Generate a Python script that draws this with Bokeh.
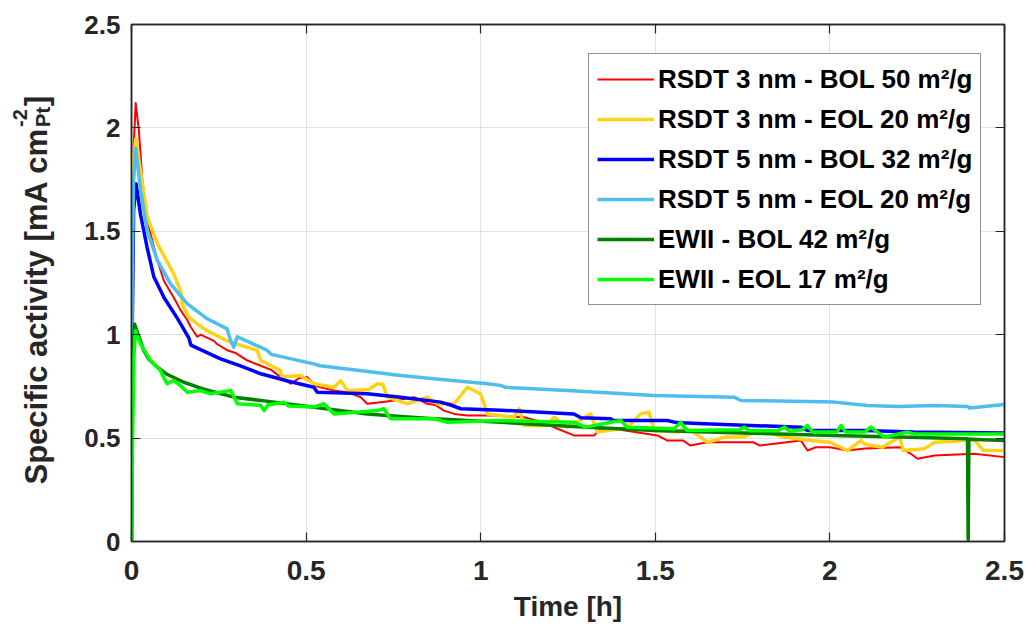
import math
from bokeh.plotting import figure
from bokeh.layouts import row
from bokeh.models import (LinearAxis, FixedTicker, Label, Legend, LegendItem, Range1d)
from bokeh.embed import file_html
from bokeh.resources import INLINE

FONT = "Liberation Sans"
AX = "#262626"

# ---------------- data ----------------
red_t = [0, 0.002, 0.006, 0.012, 0.021, 0.031, 0.045, 0.074, 0.093, 0.121, 0.14, 0.16,
         0.169, 0.188, 0.198, 0.236, 0.245, 0.274, 0.30, 0.332, 0.37, 0.40, 0.427, 0.456,
         0.48, 0.503, 0.53, 0.58, 0.62, 0.656, 0.675, 0.72, 0.752, 0.809, 0.847, 0.87,
         0.895, 0.924, 0.962, 1.038, 1.124, 1.17, 1.22, 1.267, 1.296, 1.325, 1.344, 1.40,
         1.506, 1.535, 1.58, 1.60, 1.649, 1.78, 1.80, 1.917, 1.936, 1.96, 2.0, 2.05,
         2.1, 2.2, 2.232, 2.251, 2.30, 2.413, 2.5]
red_v = [0, 1.2, 1.9, 2.12, 1.99, 1.75, 1.55, 1.36, 1.26, 1.18, 1.12, 1.07,
         1.04, 0.99, 1.0, 0.97, 0.955, 0.925, 0.91, 0.875, 0.85, 0.83, 0.795, 0.763,
         0.79, 0.795, 0.75, 0.73, 0.72, 0.698, 0.666, 0.675, 0.682, 0.698, 0.666, 0.66,
         0.633, 0.617, 0.609, 0.609, 0.601, 0.58, 0.545, 0.513, 0.513, 0.513, 0.545, 0.54,
         0.513, 0.488, 0.488, 0.464, 0.48, 0.48, 0.464, 0.488, 0.44, 0.456, 0.456, 0.44,
         0.45, 0.456, 0.424, 0.40, 0.416, 0.424, 0.408]

yel_t = [0, 0.002, 0.006, 0.012, 0.025, 0.045, 0.074, 0.121, 0.143, 0.145, 0.164, 0.207,
         0.274, 0.32, 0.36, 0.37, 0.427, 0.43, 0.484, 0.522, 0.58, 0.599, 0.618, 0.68,
         0.704, 0.72, 0.733, 0.79, 0.847, 0.876, 0.924, 0.962, 1.0, 1.019, 1.095, 1.11,
         1.124, 1.19, 1.21, 1.248, 1.315, 1.334, 1.42, 1.458, 1.482, 1.497, 1.567, 1.58,
         1.61, 1.649, 1.70, 1.75, 1.80, 1.869, 1.946, 2.0, 2.05, 2.089, 2.10, 2.15,
         2.20, 2.21, 2.27, 2.30, 2.36, 2.41, 2.44, 2.5]
yel_v = [0, 1.5, 1.85, 1.947, 1.8, 1.57, 1.44, 1.294, 1.2, 1.15, 1.085, 1.028,
         0.97, 0.945, 0.924, 0.875, 0.827, 0.795, 0.803, 0.763, 0.746, 0.778, 0.730, 0.735,
         0.763, 0.76, 0.698, 0.666, 0.698, 0.666, 0.666, 0.746, 0.714, 0.617, 0.601, 0.642,
         0.561, 0.561, 0.601, 0.553, 0.617, 0.529, 0.55, 0.617, 0.625, 0.537, 0.529, 0.55,
         0.529, 0.48, 0.505, 0.505, 0.537, 0.505, 0.488, 0.48, 0.44, 0.488, 0.47, 0.456,
         0.505, 0.44, 0.448, 0.48, 0.485, 0.497, 0.44, 0.44]

blue_t = [0, 0.002, 0.006, 0.013, 0.026, 0.045, 0.064, 0.093, 0.131, 0.164, 0.17, 0.255,
          0.31, 0.37, 0.45, 0.522, 0.532, 0.675, 0.771, 0.885, 0.914, 0.943, 1.057, 1.267,
          1.287, 1.372, 1.382, 1.535, 1.56, 1.64, 1.917, 1.936, 2.1, 2.24, 2.5]
blue_v = [0, 1.0, 1.6, 1.73, 1.58, 1.42, 1.28, 1.18, 1.08, 0.985, 0.95, 0.883,
          0.85, 0.811, 0.775, 0.746, 0.722, 0.714, 0.698, 0.674, 0.66, 0.642, 0.635, 0.617,
          0.598, 0.593, 0.585, 0.585, 0.575, 0.569, 0.553, 0.537, 0.537, 0.529, 0.525]

lb_t = [0, 0.002, 0.006, 0.012, 0.026, 0.045, 0.074, 0.112, 0.16, 0.217, 0.274, 0.284,
        0.293, 0.303, 0.389, 0.40, 0.522, 0.54, 0.771, 0.866, 1.019, 1.057, 1.07, 1.248,
        1.497, 1.726, 1.745, 2.012, 2.108, 2.194, 2.30, 2.395, 2.40, 2.5]
lb_v = [0, 1.3, 1.75, 1.90, 1.70, 1.504, 1.359, 1.246, 1.149, 1.077, 1.028, 0.97,
        0.94, 0.99, 0.924, 0.905, 0.859, 0.85, 0.803, 0.787, 0.763, 0.755, 0.746, 0.730,
        0.706, 0.698, 0.682, 0.674, 0.658, 0.653, 0.658, 0.653, 0.645, 0.662]

dg_t = [0, 0.002, 0.006, 0.009, 0.015, 0.035, 0.05, 0.074, 0.1, 0.15, 0.2, 0.293,
        0.38, 0.484, 0.58, 0.675, 0.77, 0.866, 1.057, 1.25, 1.497, 1.75, 2.012, 2.2,
        2.394, 2.396, 2.398, 2.5]
dg_v = [0, 0.6, 0.95, 1.05, 1.02, 0.924, 0.88, 0.843, 0.81, 0.770, 0.74, 0.698,
        0.68, 0.658, 0.637, 0.617, 0.605, 0.593, 0.577, 0.557, 0.537, 0.525, 0.513, 0.505,
        0.497, 0.01, 0.495, 0.488]

g_t = [0, 0.003, 0.007, 0.0115, 0.026, 0.054, 0.083, 0.09, 0.102, 0.121, 0.14, 0.16,
       0.198, 0.226, 0.284, 0.303, 0.37, 0.38, 0.39, 0.436, 0.45, 0.522, 0.551, 0.58,
       0.704, 0.723, 0.742, 0.866, 0.905, 1.057, 1.267, 1.3, 1.401, 1.42, 1.554, 1.573,
       1.59, 1.74, 1.755, 1.77, 1.85, 1.87, 1.885, 1.92, 1.936, 1.95, 2.02, 2.032,
       2.045, 2.10, 2.117, 2.156, 2.21, 2.222, 2.24, 2.5]
g_v = [0, 0.5, 0.9, 1.02, 0.956, 0.875, 0.827, 0.80, 0.763, 0.779, 0.754, 0.722,
       0.730, 0.714, 0.730, 0.666, 0.658, 0.633, 0.66, 0.674, 0.655, 0.650, 0.666, 0.617,
       0.633, 0.642, 0.593, 0.593, 0.577, 0.585, 0.577, 0.553, 0.585, 0.553, 0.545, 0.577,
       0.537, 0.54, 0.553, 0.535, 0.535, 0.553, 0.533, 0.54, 0.561, 0.53, 0.53, 0.561,
       0.53, 0.53, 0.553, 0.505, 0.525, 0.529, 0.52, 0.52]

series_labels = ["RSDT 3 nm - BOL 50 m\u00b2/g", "RSDT 3 nm - EOL 20 m\u00b2/g",
                 "RSDT 5 nm - BOL 32 m\u00b2/g", "RSDT 5 nm - EOL 20 m\u00b2/g",
                 "EWII - BOL 42 m\u00b2/g", "EWII - EOL 17 m\u00b2/g"]
series_colors = ["#FF0000", "#FFD21A", "#0000FF", "#4DBEEE", "#007F00", "#00FF00"]
series_widths = [2, 3.5, 3.5, 3.5, 3.5, 3.5]

x_ticks = [0, 0.5, 1, 1.5, 2, 2.5]
x_tick_labels = ["0", "0.5", "1", "1.5", "2", "2.5"]
y_ticks = [0, 0.5, 1, 1.5, 2, 2.5]
y_tick_labels = ["0", "0.5", "1", "1.5", "2", "2.5"]
x_title = "Time [h]"
y_title_main = "Specific activity [mA cm"
y_title_sup = "-2"
y_title_sub = "Pt"
y_title_end = "]"

# ---------------- layout sizes ----------------
TOTAL_H = 636
TITLE_W = 70
FRAME_W, FRAME_H = 873, 517

# ---------------- main figure ----------------
p = figure(frame_width=FRAME_W, frame_height=FRAME_H,
           x_range=Range1d(0, 2.5), y_range=Range1d(0, 2.5),
           output_backend="svg", toolbar_location=None,
           min_border_left=131 - TITLE_W, min_border_right=20, min_border_top=24,
           min_border_bottom=TOTAL_H - 24 - FRAME_H,
           background_fill_color="white", border_fill_color="white")
p.outline_line_color = AX
p.outline_line_width = 1.5

def style_axis(ax, ticks, labels, size, show_labels=True):
    ax.ticker = FixedTicker(ticks=ticks)
    ax.major_tick_in = 9
    ax.major_tick_out = 0
    ax.minor_tick_line_color = None
    ax.axis_line_color = AX
    ax.axis_line_width = 1.5
    ax.major_tick_line_color = AX
    ax.major_tick_line_width = 1.2
    if show_labels:
        ax.major_label_overrides = {t: l for t, l in zip(ticks, labels)}
        ax.major_label_text_font = FONT
        ax.major_label_text_font_style = "bold"
        ax.major_label_text_font_size = size
        ax.major_label_text_color = AX
    else:
        ax.major_label_overrides = {t: "" for t in ticks}
        ax.major_label_text_font_size = "1px"
        ax.major_label_standoff = 0

xa = p.xaxis[0]
ya = p.yaxis[0]
style_axis(xa, x_ticks, x_tick_labels, "28px")
style_axis(ya, y_ticks, y_tick_labels, "26px")
xa.major_label_standoff = 19
ya.major_label_standoff = 11
xa.axis_label = x_title
xa.axis_label_text_font = FONT
xa.axis_label_text_font_style = "bold"
xa.axis_label_text_font_size = "28px"
xa.axis_label_text_color = AX
xa.axis_label_standoff = 8

top = LinearAxis()
right = LinearAxis()
style_axis(top, x_ticks, x_tick_labels, "1px", show_labels=False)
style_axis(right, y_ticks, y_tick_labels, "1px", show_labels=False)
p.add_layout(top, "above")
p.add_layout(right, "right")

p.xgrid.ticker = FixedTicker(ticks=x_ticks)
p.ygrid.ticker = FixedTicker(ticks=y_ticks)
for g in (p.xgrid[0], p.ygrid[0]):
    g.grid_line_color = "#E2E2E2"
    g.grid_line_width = 1

# ---------------- lines ----------------
data = [(red_t, red_v), (yel_t, yel_v), (blue_t, blue_v), (lb_t, lb_v), (dg_t, dg_v), (g_t, g_v)]
items = []
for (t, v), lab, col, w in zip(data, series_labels, series_colors, series_widths):
    r = p.line(t, v, line_color=col, line_width=w, line_join="round")
    items.append(LegendItem(label=lab, renderers=[r]))

legend = Legend(items=items, location=(457, 236))
legend.label_text_font = FONT
legend.label_text_font_style = "bold"
legend.label_text_font_size = "26px"
legend.label_text_color = "black"
legend.glyph_width = 57
legend.glyph_height = 20
legend.label_height = 34
legend.label_standoff = 4
legend.spacing = 6
legend.padding = 8
legend.margin = 0
legend.border_line_color = AX
legend.border_line_width = 1
legend.background_fill_color = "white"
legend.background_fill_alpha = 1
p.add_layout(legend)

# ---------------- y-axis title panel (with super/subscript) ----------------
# (the row layout aligns this panel's frame with the main plot frame)
yt = figure(width=TITLE_W, height=TOTAL_H, x_range=Range1d(0, 1), y_range=Range1d(0, 1),
            output_backend="svg", toolbar_location=None, min_border=0,
            background_fill_color="white", border_fill_color="white")
yt.outline_line_color = None
yt.axis.visible = False
yt.grid.visible = False

YFS = 31
SFS = 20
y0 = 57
xb = 36
main_w = 11.504 * YFS
common = dict(x_units="screen", y_units="screen", angle=math.pi / 2,
              text_font=FONT, text_font_style="bold", text_color=AX,
              text_align="left", text_baseline="alphabetic")
yt.add_layout(Label(x=xb, y=y0, text=y_title_main, text_font_size=f"{YFS}px", **common))
yt.add_layout(Label(x=xb - 17, y=y0 + main_w + 1, text=y_title_sup, text_font_size=f"{SFS}px", **common))
yt.add_layout(Label(x=xb + 6, y=y0 + main_w + 1, text=y_title_sub, text_font_size=f"{SFS}px", **common))
yt.add_layout(Label(x=xb, y=y0 + main_w + 1 + 1.0 * SFS + 1, text=y_title_end,
                    text_font_size=f"{YFS}px", **common))

layout = row(yt, p)
open("out.html", "w").write(file_html(layout, INLINE))
